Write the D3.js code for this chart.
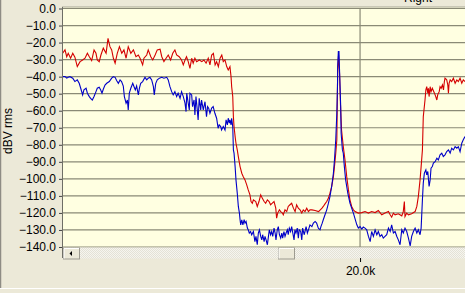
<!DOCTYPE html>
<html>
<head>
<meta charset="utf-8">
<script src="https://cdn.jsdelivr.net/npm/d3@7"></script>
<style>
  html, body { margin: 0; padding: 0; background: #ECE9D8; overflow: hidden; }
  svg { display: block; font-family: "Liberation Sans", Arial, sans-serif; }
</style>
</head>
<body>
<div id="chart"></div>
<script>
// frequency in kHz, level in dBV rms
const redFreq = [6.17,6.28,6.36,6.43,6.54,6.64,6.74,6.85,6.98,7.10,7.21,7.32,7.41,7.52,7.63,7.72,7.78,7.87,7.95,8.06,8.19,8.28,8.37,8.45,8.53,8.61,8.71,8.81,8.92,9.02,9.12,9.22,9.34,9.46,9.58,9.69,9.77,9.89,9.95,10.08,10.15,10.27,10.36,10.47,10.57,10.70,10.78,10.88,10.98,11.08,11.19,11.29,11.39,11.47,11.59,11.70,11.78,11.86,11.93,12.01,12.09,12.17,12.24,12.32,12.40,12.53,12.64,12.74,12.84,12.94,13.02,13.10,13.18,13.26,13.33,13.41,13.49,13.57,13.64,13.72,13.80,13.87,13.95,14.00,14.03,14.08,14.11,14.14,14.19,14.23,14.29,14.34,14.42,14.50,14.57,14.65,14.73,14.80,14.88,14.93,14.99,15.04,15.15,15.22,15.30,15.38,15.45,15.54,15.61,15.69,15.77,15.84,15.92,16.00,16.08,16.12,16.17,16.25,16.31,16.39,16.43,16.51,16.59,16.66,16.74,16.82,16.90,16.98,17.05,17.13,17.21,17.29,17.36,17.44,17.52,17.60,17.67,17.76,17.91,18.07,18.23,18.29,18.37,18.45,18.53,18.60,18.68,18.76,18.81,18.87,18.92,18.96,19.00,19.05,19.09,19.14,19.22,19.30,19.38,19.46,19.53,19.61,19.69,19.77,19.92,20.08,20.23,20.39,20.54,20.70,20.85,21.01,21.16,21.32,21.40,21.47,21.55,21.63,21.78,21.94,22.01,22.06,22.09,22.17,22.25,22.40,22.56,22.64,22.71,22.79,22.84,22.90,22.94,23.02,23.06,23.10,23.15,23.18,23.21,23.26,23.30,23.36,23.46,23.52,23.57,23.61,23.68,23.72,23.77,23.83,23.88,23.92,23.95,24.03,24.08,24.11,24.14,24.19,24.26,24.34,24.42,24.50,24.57,24.65,24.73,24.80,24.88];
const redDb = [-26.3,-24.3,-28.3,-26.3,-29.2,-26.3,-28.6,-34.1,-31.2,-30.2,-29.2,-26.3,-28.3,-30.6,-24.3,-26.3,-30.2,-31.2,-27.3,-23.3,-26.3,-17.5,-22.4,-24.3,-29.2,-32.1,-26.3,-22.4,-26.3,-24.3,-29.2,-22.4,-26.3,-24.3,-28.3,-27.3,-29.2,-33.1,-29.2,-27.3,-24.3,-28.3,-30.2,-27.3,-24.3,-23.9,-28.3,-31.2,-29.2,-27.3,-30.2,-26.3,-24.3,-27.3,-28.3,-30.2,-33.1,-30.2,-28.3,-31.2,-35.1,-29.2,-32.1,-29.2,-31.2,-30.2,-31.2,-30.2,-32.1,-29.2,-33.1,-27.3,-26.3,-33.1,-31.2,-34.1,-29.2,-27.3,-31.2,-30.2,-34.1,-36.1,-34.1,-40.0,-45.9,-51.7,-63.5,-69.3,-75.2,-79.1,-83.0,-86.9,-92.8,-96.7,-98.7,-100.6,-103.5,-106.5,-109.4,-113.3,-114.3,-112.3,-113.3,-116.2,-113.3,-109.4,-111.3,-113.3,-114.3,-112.3,-113.3,-115.2,-114.3,-113.3,-117.2,-123.1,-120.1,-118.2,-119.2,-120.1,-121.1,-118.2,-119.2,-116.2,-115.2,-114.3,-117.2,-119.2,-115.2,-117.2,-118.2,-120.1,-118.2,-119.2,-117.2,-119.2,-118.2,-118.2,-118.6,-119.2,-117.2,-116.2,-114.7,-113.3,-111.3,-108.4,-104.5,-98.7,-92.8,-84.9,-77.1,-36.1,-27.3,-39.0,-56.6,-71.3,-81.1,-88.9,-98.7,-106.5,-112.3,-116.2,-118.2,-119.2,-120.1,-119.8,-119.2,-120.1,-119.2,-119.8,-118.6,-121.1,-120.1,-119.2,-121.1,-122.5,-120.1,-121.1,-120.5,-121.7,-119.2,-113.3,-122.1,-120.1,-121.1,-120.5,-119.2,-116.2,-110.4,-100.6,-92.8,-83.0,-63.5,-53.7,-47.8,-45.9,-49.7,-46.8,-51.7,-45.9,-48.8,-46.8,-49.7,-51.7,-53.7,-50.7,-48.8,-45.9,-46.8,-44.9,-47.8,-42.9,-40.9,-41.9,-44.9,-49.7,-43.9,-41.9,-42.9,-40.9,-43.9,-41.9,-42.9,-40.9,-43.9,-41.9,-42.9];

const blueFreq = [6.17,6.28,6.36,6.43,6.51,6.64,6.74,6.85,6.94,7.01,7.10,7.16,7.26,7.32,7.41,7.47,7.55,7.63,7.72,7.78,7.87,7.94,8.00,8.06,8.14,8.22,8.34,8.45,8.53,8.61,8.68,8.76,8.84,8.91,8.99,9.04,9.12,9.18,9.22,9.27,9.34,9.43,9.49,9.55,9.61,9.69,9.74,9.80,9.89,10.00,10.08,10.15,10.23,10.31,10.39,10.43,10.50,10.57,10.67,10.78,10.88,11.01,11.08,11.16,11.24,11.31,11.39,11.47,11.54,11.63,11.70,11.78,11.86,11.91,11.94,12.01,12.06,12.09,12.17,12.21,12.28,12.32,12.37,12.43,12.47,12.52,12.59,12.63,12.71,12.79,12.86,12.91,12.96,13.02,13.10,13.17,13.25,13.33,13.40,13.45,13.52,13.56,13.64,13.72,13.77,13.83,13.87,13.92,13.95,14.00,14.03,14.08,14.11,14.14,14.19,14.23,14.29,14.34,14.39,14.42,14.45,14.50,14.55,14.61,14.65,14.70,14.76,14.80,14.85,14.91,14.96,15.04,15.11,15.16,15.22,15.27,15.32,15.38,15.43,15.47,15.54,15.58,15.63,15.69,15.74,15.78,15.84,15.89,15.94,16.00,16.05,16.09,16.15,16.20,16.25,16.31,16.36,16.40,16.46,16.51,16.56,16.62,16.66,16.71,16.77,16.82,16.86,16.93,16.97,17.02,17.08,17.13,17.17,17.24,17.29,17.33,17.40,17.44,17.49,17.55,17.60,17.67,17.76,17.83,17.91,17.98,18.06,18.14,18.18,18.24,18.29,18.37,18.45,18.53,18.60,18.68,18.76,18.81,18.87,18.92,18.95,18.96,18.99,19.02,19.04,19.07,19.10,19.12,19.18,19.22,19.27,19.33,19.43,19.53,19.69,19.85,19.92,20.00,20.08,20.15,20.23,20.31,20.39,20.47,20.54,20.62,20.70,20.78,20.85,20.93,21.01,21.08,21.16,21.24,21.32,21.40,21.47,21.55,21.63,21.71,21.78,21.86,21.94,22.01,22.09,22.17,22.25,22.33,22.40,22.48,22.56,22.64,22.71,22.79,22.84,22.90,22.94,22.99,23.06,23.10,23.15,23.21,23.26,23.30,23.36,23.41,23.49,23.57,23.64,23.72,23.80,23.87,23.95,24.03,24.11,24.19,24.26,24.34,24.42,24.50,24.57,24.65,24.73,24.80,24.88];
const blueDb = [-40.0,-40.0,-40.9,-40.4,-40.0,-40.9,-42.9,-41.9,-43.9,-46.8,-50.7,-47.8,-46.8,-49.7,-51.7,-52.7,-53.7,-51.7,-48.8,-46.8,-46.2,-47.8,-49.7,-47.4,-44.9,-43.9,-42.9,-40.9,-40.0,-40.4,-42.3,-43.9,-41.9,-42.9,-45.5,-51.7,-55.6,-53.7,-59.5,-49.7,-46.8,-43.9,-45.9,-47.8,-45.5,-50.7,-46.8,-43.9,-42.9,-40.4,-41.9,-40.9,-40.4,-41.9,-45.9,-50.7,-43.9,-41.9,-40.9,-40.4,-40.9,-40.4,-41.9,-45.9,-48.8,-50.7,-48.8,-51.7,-49.7,-52.7,-48.8,-51.7,-55.6,-60.5,-49.7,-55.6,-59.5,-49.7,-50.7,-57.6,-53.7,-62.5,-51.7,-59.5,-65.4,-52.7,-59.5,-53.7,-59.5,-54.7,-63.5,-57.6,-58.5,-61.5,-58.5,-57.6,-61.5,-64.4,-70.3,-68.3,-69.3,-71.3,-69.3,-71.3,-65.4,-68.3,-64.4,-67.3,-65.4,-68.3,-64.4,-69.3,-83.0,-84.9,-92.8,-100.6,-108.4,-116.2,-120.1,-124.0,-127.0,-124.0,-127.0,-124.0,-126.0,-125.0,-128.9,-129.9,-131.8,-130.9,-132.8,-130.9,-136.8,-133.8,-138.7,-131.8,-129.9,-133.8,-135.8,-132.8,-136.8,-133.8,-135.8,-138.7,-133.8,-129.9,-132.8,-130.9,-133.8,-128.9,-131.8,-135.8,-129.9,-128.0,-132.8,-134.8,-131.8,-134.8,-130.9,-133.8,-131.8,-129.9,-132.8,-128.9,-130.9,-128.0,-130.9,-135.8,-129.9,-131.8,-128.9,-134.8,-129.9,-130.9,-135.8,-128.9,-132.8,-130.9,-128.0,-131.8,-129.9,-127.0,-128.0,-126.0,-125.0,-126.0,-128.9,-129.9,-128.0,-126.0,-124.0,-121.1,-118.2,-114.3,-110.4,-104.5,-96.7,-88.9,-77.1,-61.5,-45.9,-34.1,-25.3,-25.3,-34.1,-45.9,-57.6,-73.2,-83.0,-84.9,-92.8,-100.6,-108.4,-114.3,-120.1,-127.0,-128.9,-128.0,-129.5,-128.3,-128.9,-129.9,-133.8,-136.8,-130.9,-133.8,-129.9,-132.8,-130.9,-133.8,-132.8,-134.8,-133.8,-132.8,-128.9,-130.9,-127.0,-131.8,-130.9,-133.8,-135.8,-138.7,-129.9,-131.8,-128.9,-130.9,-134.8,-139.3,-133.8,-130.9,-128.9,-131.8,-129.9,-132.8,-128.9,-112.3,-102.5,-96.7,-94.7,-97.7,-95.7,-104.5,-100.6,-93.7,-92.8,-90.8,-89.9,-87.9,-88.9,-85.9,-84.9,-86.9,-85.9,-84.0,-83.0,-84.9,-82.0,-83.0,-81.1,-82.0,-81.1,-84.0,-79.1,-77.1,-75.2];

const yTicks = [0,-10,-20,-30,-40,-50,-60,-70,-80,-90,-100,-110,-120,-130,-140];
const xTicks = [20.0];
const yLabel = "dBV rms";
const legendText = "Right";

const W = 465, H = 293;
const pL = 62, pR = 465, pT = 8.5, pB = 247;

const x = d3.scaleLinear().domain([6.14, 24.88]).range([pL, pR]);
const y = d3.scaleLinear().domain([0, -140]).range([pT, pB]);

const svg = d3.select("#chart").append("svg").attr("width", W).attr("height", H);

// hatched scrollbar pattern
const defs = svg.append("defs");
const pat = defs.append("pattern").attr("id", "hatch").attr("width", 2).attr("height", 2)
  .attr("patternUnits", "userSpaceOnUse");
pat.append("rect").attr("width", 2).attr("height", 2).attr("fill", "#F6F5EF");
pat.append("rect").attr("width", 1).attr("height", 1).attr("fill", "#E4E2D6");
pat.append("rect").attr("x", 1).attr("y", 1).attr("width", 1).attr("height", 1).attr("fill", "#E4E2D6");
defs.append("clipPath").attr("id", "plotclip").append("rect")
  .attr("x", pL + 1).attr("y", pT - 1).attr("width", pR - pL).attr("height", pB - pT + 1.5);

// window frame lines
svg.append("line").attr("x1", 0.5).attr("x2", 0.5).attr("y1", 0).attr("y2", 288)
   .attr("stroke", "#8E8C84").attr("stroke-width", 1.5);
svg.append("line").attr("x1", 0).attr("x2", W).attr("y1", 288.5).attr("y2", 288.5)
   .attr("stroke", "#FFFFFF").attr("stroke-width", 1);

// top legend text (cut off)
svg.append("text").attr("x", 404).attr("y", 2).attr("font-size", "12px").attr("fill", "#000").text(legendText);

// plot background
svg.append("rect").attr("x", pL).attr("y", pT - 1.5).attr("width", pR - pL).attr("height", pB - pT + 1.5)
   .attr("fill", "#FFFFE1");
svg.append("line").attr("x1", pL).attr("x2", pR).attr("y1", pT - 1.5).attr("y2", pT - 1.5)
   .attr("stroke", "#A9A796").attr("stroke-width", 1);

// horizontal grid
yTicks.forEach(t => {
  svg.append("line").attr("x1", pL).attr("x2", pR).attr("y1", y(t)).attr("y2", y(t))
     .attr("stroke", "#8A8A76").attr("stroke-width", 1.2);
});
// vertical grid
xTicks.forEach(t => {
  svg.append("line").attr("x1", x(t)).attr("x2", x(t)).attr("y1", pT).attr("y2", pB)
     .attr("stroke", "#8A8A76").attr("stroke-width", 1.2);
});

// y axis
const yAxis = d3.axisLeft(y).tickValues(yTicks).tickSize(3).tickPadding(3).tickFormat(d3.format(".1f"));
const gy = svg.append("g").attr("transform", `translate(${pL},0)`).call(yAxis);
gy.select(".domain").remove();
gy.selectAll(".tick line").attr("stroke", "#444");
gy.selectAll(".tick text").attr("font-size", "12px").attr("fill", "#000")
  .attr("font-family", "Liberation Sans, Arial, sans-serif").text(d => d3.format(".1f")(d).replace("-", "-"));
svg.append("line").attr("x1", pL + 0.5).attr("x2", pL + 0.5).attr("y1", pT - 1.5).attr("y2", 258)
   .attr("stroke", "#6E6E66").attr("stroke-width", 1);

svg.append("text").attr("transform", `translate(12,131) rotate(-90)`).attr("text-anchor", "middle")
   .attr("font-size", "12px").attr("fill", "#000").text(yLabel);

// scrollbar
svg.append("rect").attr("x", pL + 1).attr("y", pB + 0.5).attr("width", pR - pL).attr("height", 11)
   .attr("fill", "url(#hatch)");
function button(x0, w) {
  svg.append("rect").attr("x", x0).attr("y", pB + 1).attr("width", w).attr("height", 11)
     .attr("fill", "#ECE9D8").attr("stroke", "#9D9B90").attr("stroke-width", 1);
  svg.append("path").attr("d", `M${x0 + 0.5},${pB + 11.5}V${pB + 1.5}H${x0 + w - 0.5}`)
     .attr("fill", "none").attr("stroke", "#FFFFFF");
}
button(63.5, 16);
svg.append("path").attr("d", d3.line()([[72, pB + 4], [72, pB + 9], [69.5, pB + 6.5]]) + "Z").attr("fill", "#000");
button(278.5, 16);

// x axis ticks
const xAxis = d3.axisBottom(x).tickValues(xTicks).tickSize(4).tickPadding(4)
  .tickFormat(d => d3.format(".1f")(d) + "k");
const gx = svg.append("g").attr("transform", `translate(0,258)`).call(xAxis);
gx.select(".domain").remove();
gx.selectAll(".tick line").attr("stroke", "#000");
gx.selectAll(".tick text").attr("font-size", "12px").attr("fill", "#000")
  .attr("font-family", "Liberation Sans, Arial, sans-serif");

// traces
const line = d3.line().x(d => x(d[0])).y(d => y(d[1]));
const plot = svg.append("g").attr("clip-path", "url(#plotclip)");
plot.append("path").datum(d3.zip(redFreq, redDb)).attr("d", line)
  .attr("fill", "none").attr("stroke", "#D40000").attr("stroke-width", 1.1);
plot.append("path").datum(d3.zip(blueFreq, blueDb)).attr("d", line)
  .attr("fill", "none").attr("stroke", "#0000C8").attr("stroke-width", 1.1);
</script>
</body>
</html>
